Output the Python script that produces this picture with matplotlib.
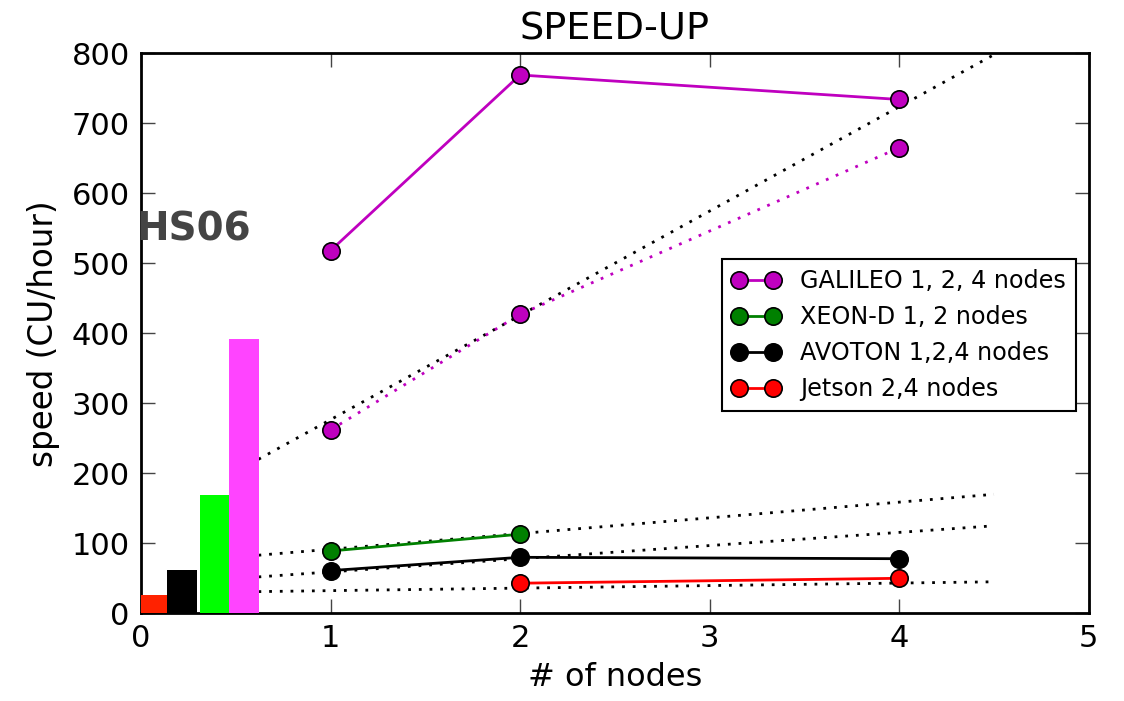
import matplotlib
matplotlib.use("Agg")
import matplotlib.pyplot as plt

# ---- data ----
bar_left = [-0.02, 0.14, 0.31, 0.465]
bar_heights = [26, 62, 169, 392]
bar_colors = ["#ff2200", "#000000", "#00ff00", "#ff44ff"]

galileo_x = [1, 2, 4]
galileo_y = [518, 769, 734]
galileo_dot_y = [262, 427, 665]

xeon_x = [1, 2]
xeon_y = [89, 113]

avoton_x = [1, 2, 4]
avoton_y = [61, 80, 78]

jetson_x = [2, 4]
jetson_y = [43, 50]

ref_x = [0.62, 4.5]
ref_lines = [[220, 798], [83, 170], [52, 125], [31, 45]]

xticks = [0, 1, 2, 3, 4, 5]
yticks = [0, 100, 200, 300, 400, 500, 600, 700, 800]

# ---- figure ----
fig = plt.figure(figsize=(11.24, 7.01), dpi=100)
ax = fig.add_axes([0.1254, 0.1251, 0.9686 - 0.1254, 0.924 - 0.1251])

ax.bar(bar_left, bar_heights, width=0.157, align="edge", color=bar_colors,
       linewidth=0, zorder=3)

for ys in ref_lines:
    ax.plot(ref_x, ys, color="black", lw=2, dashes=(1, 2.85), zorder=2)

ax.plot(galileo_x, galileo_dot_y, color="#bf00bf", lw=2, dashes=(1, 2.85),
        marker="o", markersize=12.5, markerfacecolor="#bf00bf",
        markeredgecolor="black", markeredgewidth=1.2, zorder=4)

mk = dict(marker="o", markersize=12.5, markeredgecolor="black",
          markeredgewidth=1.2, lw=2, zorder=5)
ax.plot(galileo_x, galileo_y, color="#bf00bf", markerfacecolor="#bf00bf",
        label="GALILEO 1, 2, 4 nodes", **mk)
ax.plot(xeon_x, xeon_y, color="#008000", markerfacecolor="#008000",
        label="XEON-D 1, 2 nodes", **mk)
ax.plot(avoton_x, avoton_y, color="black", markerfacecolor="black",
        label="AVOTON 1,2,4 nodes", **mk)
ax.plot(jetson_x, jetson_y, color="red", markerfacecolor="red",
        label="Jetson 2,4 nodes", **mk)

ax.text(-0.025, 532, "HS06", fontsize=28, fontweight="bold", color="#444444",
        ha="left", va="baseline", zorder=6)

ax.set_xlim(0, 5)
ax.set_ylim(0, 800)
ax.set_xticks(xticks)
ax.set_yticks(yticks)
ax.tick_params(direction="in", length=10, width=1, labelsize=22, pad=8,
               top=True, right=True, color="#444444")
for s in ax.spines.values():
    s.set_linewidth(2)

ax.set_title("SPEED-UP", fontsize=27.5, pad=10)
ax.set_xlabel("# of nodes", fontsize=23, labelpad=6)
ax.set_ylabel("speed (CU/hour)", fontsize=23.5, labelpad=8)

leg = ax.legend(loc="upper right", bbox_to_anchor=(0.987, 0.633),
                borderaxespad=0, fontsize=17.2, fancybox=False,
                edgecolor="black", framealpha=1, handlelength=2.0,
                numpoints=2, borderpad=0.43, labelspacing=0.5,
                handletextpad=0.85)
leg.get_frame().set_linewidth(1.5)

fig.savefig("out.png", dpi=100)
